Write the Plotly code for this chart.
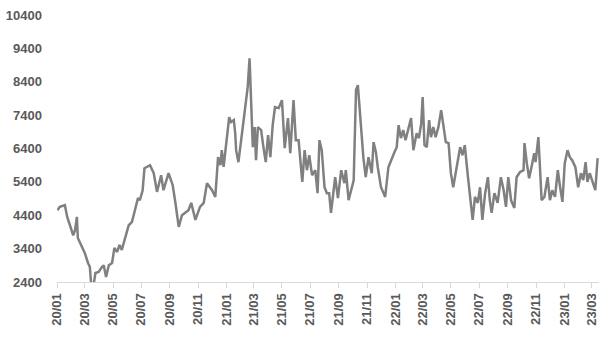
import plotly.graph_objects as go

dates = [
    "2020-01-02", "2020-01-07", "2020-01-18", "2020-01-23", "2020-01-29", "2020-02-05", "2020-02-09",
    "2020-02-13", "2020-02-15", "2020-02-24", "2020-03-01", "2020-03-08", "2020-03-12", "2020-03-15",
    "2020-03-20", "2020-03-24", "2020-03-31", "2020-04-07", "2020-04-11", "2020-04-16", "2020-04-22",
    "2020-04-29", "2020-05-04", "2020-05-10", "2020-05-15", "2020-05-20", "2020-05-26", "2020-06-04",
    "2020-06-11", "2020-06-17", "2020-06-24", "2020-06-28", "2020-07-04", "2020-07-08", "2020-07-20",
    "2020-07-28", "2020-08-04", "2020-08-13", "2020-08-18", "2020-08-29", "2020-09-07", "2020-09-12",
    "2020-09-20", "2020-09-27", "2020-10-11", "2020-10-17", "2020-10-26", "2020-11-05", "2020-11-13",
    "2020-11-20", "2020-12-01", "2020-12-08", "2020-12-14", "2020-12-19", "2020-12-22", "2020-12-26",
    "2021-01-02", "2021-01-07", "2021-01-11", "2021-01-17", "2021-01-20", "2021-01-22", "2021-01-27",
    "2021-02-03", "2021-02-11", "2021-02-16", "2021-02-20", "2021-02-23", "2021-02-27", "2021-03-03",
    "2021-03-06", "2021-03-10", "2021-03-17", "2021-03-22", "2021-03-27", "2021-04-01", "2021-04-06",
    "2021-04-11", "2021-04-16", "2021-04-24", "2021-05-01", "2021-05-07", "2021-05-14", "2021-05-19",
    "2021-05-26", "2021-05-31", "2021-06-06", "2021-06-11", "2021-06-14", "2021-06-19", "2021-06-24",
    "2021-06-29", "2021-07-05", "2021-07-12", "2021-07-17", "2021-07-21", "2021-07-26", "2021-08-01",
    "2021-08-06", "2021-08-11", "2021-08-15", "2021-08-24", "2021-08-30", "2021-09-06", "2021-09-13",
    "2021-09-16", "2021-09-22", "2021-10-03", "2021-10-08", "2021-10-12", "2021-10-17", "2021-10-20",
    "2021-10-24", "2021-10-29", "2021-11-04", "2021-11-11", "2021-11-15", "2021-11-20", "2021-11-24",
    "2021-12-01", "2021-12-10", "2021-12-17", "2021-12-24", "2021-12-30", "2022-01-04", "2022-01-08",
    "2022-01-13", "2022-01-18", "2022-01-23", "2022-01-29", "2022-02-04", "2022-02-09", "2022-02-16",
    "2022-02-21", "2022-02-26", "2022-03-01", "2022-03-05", "2022-03-10", "2022-03-15", "2022-03-19",
    "2022-03-24", "2022-03-29", "2022-04-04", "2022-04-10", "2022-04-15", "2022-04-20", "2022-04-26",
    "2022-05-01", "2022-05-06", "2022-05-13", "2022-05-21", "2022-05-26", "2022-05-31", "2022-06-06",
    "2022-06-11", "2022-06-17", "2022-06-22", "2022-06-28", "2022-07-03", "2022-07-08", "2022-07-14",
    "2022-07-20", "2022-07-24", "2022-07-28", "2022-08-03", "2022-08-10", "2022-08-17", "2022-08-23",
    "2022-08-28", "2022-09-02", "2022-09-08", "2022-09-15", "2022-09-20", "2022-09-27", "2022-10-05",
    "2022-10-07", "2022-10-12", "2022-10-17", "2022-10-23", "2022-10-28", "2022-10-31", "2022-11-06",
    "2022-11-09", "2022-11-13", "2022-11-19", "2022-11-26", "2022-12-01", "2022-12-06", "2022-12-12",
    "2022-12-18", "2022-12-23", "2022-12-28", "2023-01-02", "2023-01-08", "2023-01-13", "2023-01-18",
    "2023-01-25", "2023-01-31", "2023-02-06", "2023-02-11", "2023-02-16", "2023-02-20", "2023-02-25",
    "2023-03-04", "2023-03-09", "2023-03-14",
]

values = [
    4550, 4650, 4700, 4350, 4100, 3800, 3950,
    4350, 3720, 3450, 3270, 2970, 2850, 2300,
    2300, 2670, 2700, 2850, 2900, 2550, 2900,
    2970, 3420, 3300, 3510, 3360, 3660, 4100,
    4200, 4500, 4915, 4850, 5150, 5810, 5900,
    5660, 5100, 5600, 5150, 5660, 5300, 4850,
    4050, 4400, 4550, 4770, 4260, 4650, 4770,
    5360, 5150, 4950, 6140, 5900, 6350, 5850,
    6650, 7340, 7190, 7250, 6860, 6350, 5990,
    6740, 7640, 8240, 9100, 7850, 6440, 7040,
    6050, 7040, 6950, 6440, 5990, 6800, 6140,
    7100, 7640, 7610, 7850, 6410, 7310, 6260,
    7850, 6650, 6650, 5850, 5400, 6350, 5750,
    6200, 5600, 5750, 5060, 6650, 6350, 5240,
    5060, 5060, 4470, 5540, 4915, 5750, 5360,
    5750, 4850, 5450, 8150, 8300, 7250, 6860,
    6110, 5540, 6140, 5660, 6590, 6290, 5840,
    5240, 4950, 5840, 6110, 6290, 6440, 7100,
    6710, 6950, 6650, 6950, 7310, 6350, 6860,
    6710, 7160, 7940, 6500, 6440, 7250, 6740,
    7040, 6740, 7040, 7550, 7040, 6590, 6560,
    5660, 5240, 5840, 6440, 6200, 6500, 5660,
    4950, 4260, 4950, 4770, 5240, 4260, 5060,
    5540, 4850, 4470, 5060, 4770, 5540, 5150,
    4650, 5540, 4850, 4620, 5540, 5690, 5750,
    6560, 5960, 5510, 5900, 6260, 5990, 6740,
    5960, 4850, 4950, 5540, 4850, 5150, 4950,
    5750, 5240, 4800, 5960, 6350, 6140, 6050,
    5840, 5240, 5660, 5450, 5990, 5400, 5660,
    5400, 5150, 6110,
]

y_ticks = [2400, 3400, 4400, 5400, 6400, 7400, 8400, 9400, 10400]

fig = go.Figure()
fig.add_trace(go.Scatter(
    x=dates, y=values, mode="lines",
    line=dict(color="#808080", width=2.5),
    showlegend=False, hoverinfo="skip",
))

fig.update_layout(
    width=602, height=337,
    margin=dict(l=57, r=3, t=15, b=55, autoexpand=False),
    paper_bgcolor="white", plot_bgcolor="white",
    font=dict(family="Liberation Sans, Arial, sans-serif", size=13, color="#595959"),
)
fig.update_xaxes(
    type="date", automargin=False,
    range=["2020-01-01", "2023-03-17"],
    tick0="2020-01-01", dtick="M2", tickformat="%y/%m",
    tickangle=-90,
    ticks="outside", ticklen=5, tickcolor="#d9d9d9",
    showline=True, linecolor="#d9d9d9", linewidth=1,
    showgrid=False, zeroline=False,
    tickfont=dict(size=13, color="#595959", weight="bold"),
)
fig.update_yaxes(
    automargin=False,
    range=[2400, 10400],
    tickvals=y_ticks,
    ticktext=[str(v) for v in y_ticks],
    showgrid=False, zeroline=False, showline=False,
    ticks="", ticklabelstandoff=14,
    tickfont=dict(size=13, color="#595959", weight="bold"),
)

fig.write_html(
    "out.html",
    config={"displayModeBar": False, "staticPlot": True},
    post_script="document.body.style.margin='0';document.body.style.padding='0';document.body.style.overflow='hidden';",
)
